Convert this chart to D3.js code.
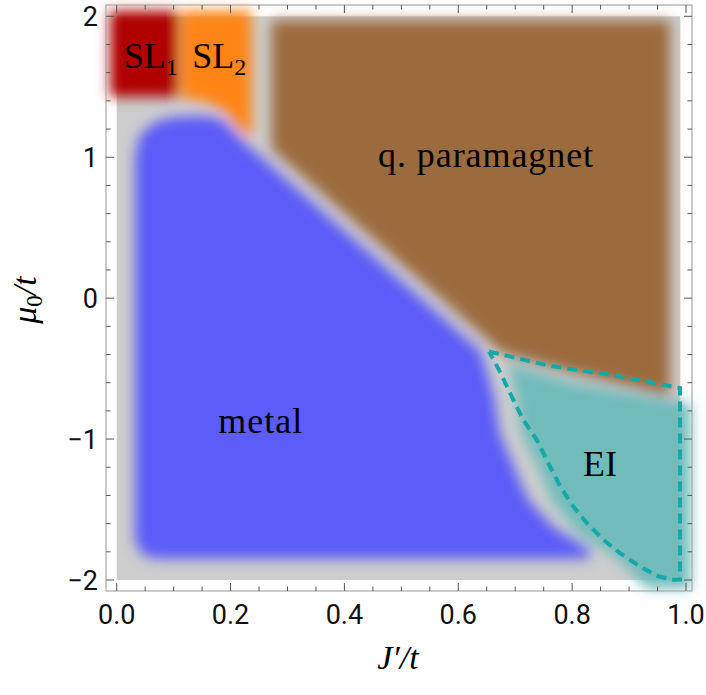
<!DOCTYPE html>
<html><head><meta charset="utf-8">
<script src="https://cdn.jsdelivr.net/npm/d3@7"></script>
<style>body{margin:0;background:#fff}</style>
</head><body>
<svg id="c" width="706" height="695"></svg>
<script>
// ---- data ----
const xTickValues = [0, 0.2, 0.4, 0.6, 0.8, 1.0];
const xTickLabels = ["0.0", "0.2", "0.4", "0.6", "0.8", "1.0"];
const yTickValues = [-2, -1, 0, 1, 2];
const yTickLabels = ["\u22122", "\u22121", "0", "1", "2"];
const computedDomain = [[0, -2], [0.99, 2]]; // gray area where phases were computed

const sl1Region = [[-0.012,2.04],[0.107,2.04],[0.107,1.43],[-0.012,1.43]];
const sl2Region = [[0.113,2.04],[0.237,2.04],[0.237,1.13],[0.215,1.2],[0.19,1.33],[0.15,1.40],[0.113,1.42]];
const paraRegion = [[0.272,1.97],[0.972,1.97],[0.972,-0.69],[0.80,-0.53],[0.678,-0.39],[0.272,1.06]];
const metalRegion = [[0.032,1.0],[0.04,1.15],[0.065,1.245],[0.10,1.285],[0.15,1.295],[0.185,1.27],[0.22,1.12],
  [0.640,-0.38],[0.663,-0.7],[0.673,-0.96],[0.698,-1.2],[0.723,-1.43],[0.768,-1.63],[0.815,-1.745],
  [0.835,-1.80],[0.825,-1.85],[0.07,-1.85],[0.045,-1.82],[0.032,-1.72]];
const eiRegion = [[0.687,-0.46],[0.80,-0.60],[1.008,-0.75],[1.008,-2.06],[0.93,-2.06],[0.9,-1.92],
  [0.86,-1.79],[0.81,-1.66],[0.765,-1.44],[0.742,-1.21],[0.712,-0.97],[0.702,-0.7]];
const eiDashed = [[0.654,-0.379],[0.76,-0.48],[0.87,-0.545],[0.9895,-0.638],[0.9895,-1.997],[0.975,-1.998],
  [0.9485,-1.970],[0.919,-1.904],[0.884,-1.809],[0.855,-1.714],[0.826,-1.596],[0.802,-1.478],
  [0.779,-1.336],[0.758,-1.170],[0.738,-1.005],[0.714,-0.863],[0.694,-0.698],[0.673,-0.521],[0.654,-0.379]];

const regions = [
  {name:"SL1", pts: sl1Region, color:"#b00000"},
  {name:"SL2", pts: sl2Region, color:"#ff8414"},
  {name:"para", pts: paraRegion, color:"#9b6a3d"},
  {name:"metal", pts: metalRegion, color:"#5c5cf8"},
  {name:"EI", pts: eiRegion, color:"#71bbbb"}
];
const labelTexts = ["SL", "SL", "q. paramagnet", "metal", "EI"];
const labelSubs = ["1", "2", "", "", ""];
const labelX = [0.060, 0.180, 0.648, 0.252, 0.849];
const labelY = [1.633, 1.633, 0.931, -0.955, -1.26];

// ---- chart ----
const svg = d3.select("#c");
const x = d3.scaleLinear().domain([0, 1]).range([116.7, 686]);
const y = d3.scaleLinear().domain([-2, 2]).range([580, 16.3]);
const F = {l:106, r:692, t:5, b:591};

const defs = svg.append("defs");
defs.append("filter").attr("id","blur")
  .attr("filterUnits","userSpaceOnUse").attr("x",0).attr("y",0).attr("width",706).attr("height",695)
  .append("feGaussianBlur").attr("stdDeviation",6.5);

svg.append("rect")
  .attr("x", x(computedDomain[0][0])).attr("y", y(computedDomain[1][1]))
  .attr("width", x(computedDomain[1][0]) - x(computedDomain[0][0]))
  .attr("height", y(computedDomain[0][1]) - y(computedDomain[1][1]))
  .attr("fill", "#cdcdcd");

const line = d3.line().x(d => x(d[0])).y(d => y(d[1]));
const g = svg.append("g").attr("filter","url(#blur)");
g.selectAll("path").data(regions).join("path")
  .attr("d", d => line(d.pts) + "Z")
  .attr("fill", d => d.color);

svg.append("path")
  .attr("d", line(eiDashed))
  .attr("fill","none").attr("stroke","#14a9a9").attr("stroke-width",4)
  .attr("stroke-dasharray","10,6").attr("stroke-linejoin","miter");

// labels
const lab = svg.append("g").attr("font-family","'Liberation Serif', 'Times New Roman', serif")
  .attr("font-size",36).attr("fill","#000").attr("text-anchor","middle");
labelTexts.forEach((t, i) => {
  const tx = lab.append("text").attr("x", x(labelX[i])).attr("y", y(labelY[i]));
  tx.append("tspan").text(t);
  if (labelSubs[i]) tx.append("tspan").attr("font-size",24).attr("dy",7).text(labelSubs[i]);
  if (t === "q. paramagnet") tx.attr("textLength",215);
  if (t === "metal") tx.attr("textLength",84);
});

// frame and ticks
svg.append("rect").attr("x",F.l).attr("y",F.t).attr("width",F.r-F.l).attr("height",F.b-F.t)
  .attr("fill","none").attr("stroke","#a8a8a8").attr("stroke-width",1.2);

const tk = svg.append("g").attr("stroke","#555").attr("stroke-width",1);
const xMinor = x.ticks(20), yMinor = y.ticks(20);
const isMajor = (v, arr) => arr.some(a => Math.abs(a - v) < 1e-9);
xMinor.forEach(v => {
  const L = isMajor(v, xTickValues) ? 8 : 4.5;
  tk.append("line").attr("x1",x(v)).attr("x2",x(v)).attr("y1",F.b).attr("y2",F.b-L);
  tk.append("line").attr("x1",x(v)).attr("x2",x(v)).attr("y1",F.t).attr("y2",F.t+L);
});
yMinor.forEach(v => {
  const L = isMajor(v, yTickValues) ? 8 : 4.5;
  tk.append("line").attr("y1",y(v)).attr("y2",y(v)).attr("x1",F.l).attr("x2",F.l+L);
  tk.append("line").attr("y1",y(v)).attr("y2",y(v)).attr("x1",F.r).attr("x2",F.r-L);
});

const tl = svg.append("g").attr("font-family","Roboto, 'Liberation Sans', sans-serif")
  .attr("font-size",27).attr("fill","#111");
xTickValues.forEach((v,i) => tl.append("text").attr("x",x(v)).attr("y",624)
  .attr("text-anchor","middle").text(xTickLabels[i]));
yTickValues.forEach((v,i) => tl.append("text").attr("x",98).attr("y",y(v)+9.6)
  .attr("text-anchor","end").text(yTickLabels[i]));

// axis titles
const xt = svg.append("text").attr("x",398).attr("y",669).attr("text-anchor","middle")
  .attr("font-family","'Liberation Serif', serif").attr("font-size",34).attr("font-style","italic");
xt.text("J\u2032/t");

const yt = svg.append("text").attr("transform","translate(36,300) rotate(-90)").attr("text-anchor","middle")
  .attr("font-family","'Liberation Serif', serif").attr("font-size",34);
yt.append("tspan").attr("font-style","italic").text("\u03bc");
yt.append("tspan").attr("font-size",23).attr("dy",6).text("0");
yt.append("tspan").attr("font-style","italic").attr("dy",-6).text("/t");
</script>
</body></html>
